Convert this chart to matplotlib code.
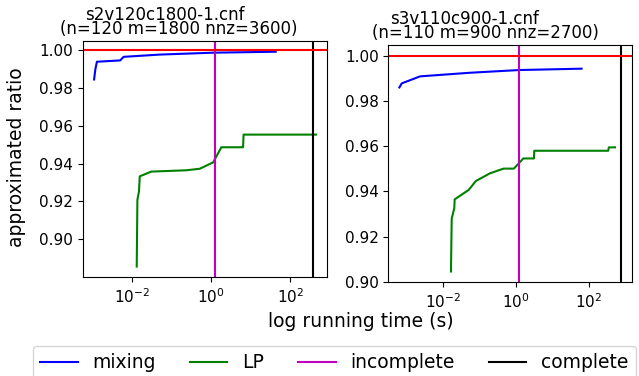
import matplotlib
matplotlib.use("Agg")
import matplotlib.pyplot as plt
from matplotlib.lines import Line2D

# left instance
title1_a = "s2v120c1800-1.cnf"
title1_b = "(n=120 m=1800 nnz=3600)"
mix_t1 = [0.00107, 0.00115, 0.00126, 0.0049, 0.0060, 0.05, 1.1, 43]
mix_v1 = [0.9846, 0.9899, 0.9940, 0.9947, 0.9966, 0.9978, 0.9988, 0.9993]
lp_t1 = [0.0129, 0.0134, 0.0147, 0.0154, 0.030, 0.23, 0.51, 1.12, 1.8, 6.4, 6.6, 450]
lp_v1 = [0.8855, 0.9209, 0.9253, 0.9333, 0.9358, 0.9365, 0.9373, 0.9407, 0.9487, 0.9487, 0.9554, 0.9554]
incomplete1 = 1.22
complete1 = 390

# right instance
title2_a = "s3v110c900-1.cnf"
title2_b = "(n=110 m=900 nnz=2700)"
mix_t2 = [0.00062, 0.00072, 0.0023, 0.054, 1.23, 63]
mix_v2 = [0.9860, 0.9878, 0.9909, 0.9925, 0.9937, 0.9943]
lp_t2 = [0.0162, 0.0170, 0.0200, 0.0205, 0.050, 0.078, 0.19, 0.45, 0.87, 1.23, 1.58,
         3.1, 3.16, 340, 355, 525]
lp_v2 = [0.9046, 0.9280, 0.9326, 0.9365, 0.9407, 0.9446, 0.9480, 0.9501, 0.9501, 0.9527,
         0.9546, 0.9546, 0.9580, 0.9580, 0.9595, 0.9595]
incomplete2 = 1.23
complete2 = 775

W, H = 639, 376
fig = plt.figure(figsize=(W / 100, H / 100), dpi=100)

ax1 = fig.add_axes([83 / W, 1 - 277.3 / H, 244 / W, 236.3 / H])
ax2 = fig.add_axes([388.3 / W, 1 - 282.3 / H, 244 / W, 237.3 / H])

panels = [
    (ax1, mix_t1, mix_v1, lp_t1, lp_v1, incomplete1, complete1, title1_a, title1_b, 0.336, 0.393),
    (ax2, mix_t2, mix_v2, lp_t2, lp_v2, incomplete2, complete2, title2_a, title2_b, 0.312, 0.398),
]

for ax, mt, mv, lt, lv, inc, comp, ta, tb, xa, xb in panels:
    ax.plot(mt, mv, color="b")
    ax.plot(lt, lv, color="g")
    ax.axvline(inc, color="m")
    ax.axvline(comp, color="k")
    ax.axhline(1.0, color="r")
    ax.set_xscale("log")
    ax.set_yticks([0.90, 0.92, 0.94, 0.96, 0.98, 1.00])
    ax.tick_params(labelsize=11)
    ax.annotate(ta, xy=(xa, 1), xycoords="axes fraction", xytext=(0, 15.2),
                textcoords="offset points", ha="center", va="baseline", fontsize=12)
    ax.annotate(tb, xy=(xb, 1), xycoords="axes fraction", xytext=(0, 5.4),
                textcoords="offset points", ha="center", va="baseline", fontsize=12)

fig.text(17 / W, 1 - 157 / H, "approximated ratio", rotation=90,
         ha="center", va="center", fontsize=13.5)
fig.text(361 / W, 49 / H, "log running time (s)", ha="center", va="baseline", fontsize=13.5)

handles = [Line2D([], [], color="b"), Line2D([], [], color="g"),
           Line2D([], [], color="m"), Line2D([], [], color="k")]
fig.legend(handles, ["mixing", "LP", "incomplete", "complete"], ncol=4,
           loc="upper left", bbox_to_anchor=(32.7 / W, 1 - 345.7 / H), borderaxespad=0,
           columnspacing=1.8, fontsize=13.5)

fig.savefig("out.png", dpi=100)
